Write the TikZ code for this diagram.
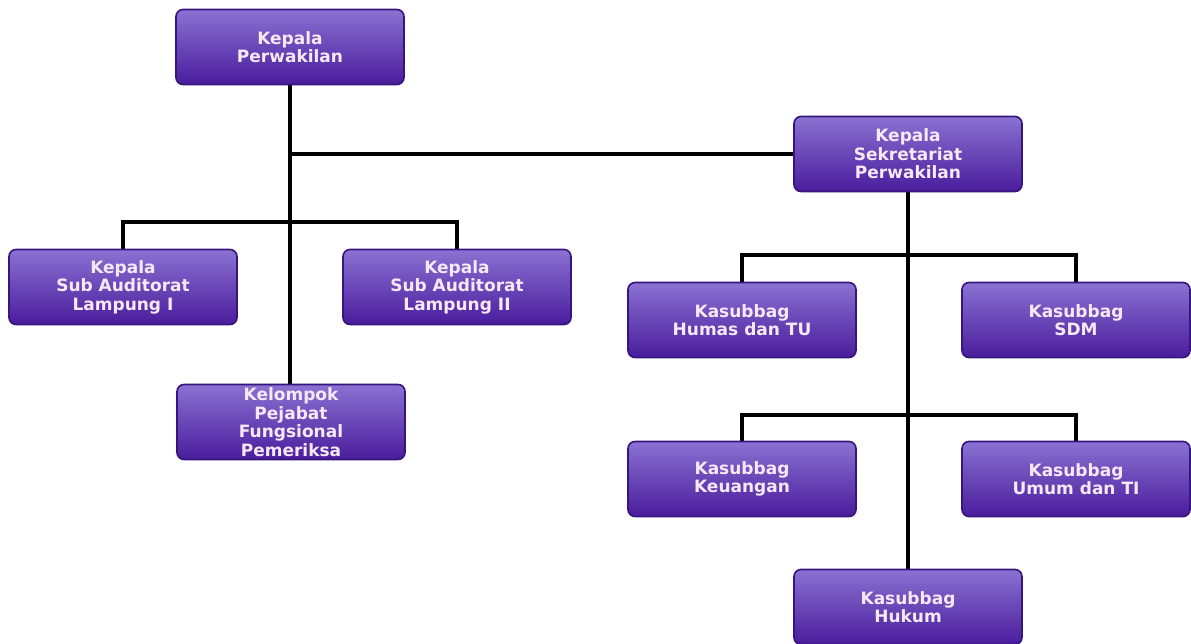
\documentclass[tikz,border=0pt]{standalone}
\usepackage{fontspec}
\setmainfont{DejaVu Sans}
\usetikzlibrary{backgrounds}
\definecolor{boxtop}{HTML}{8A72D2}
\definecolor{boxmid}{HTML}{5C30B0}
\definecolor{boxbot}{HTML}{4A1C9C}
\definecolor{boxedge}{HTML}{36157F}
\definecolor{boxtext}{HTML}{F6E8F6}
\begin{document}
\begin{tikzpicture}[x=1pt,y=-1pt,
  unit/.style={rectangle,rounded corners=7pt,minimum width=228pt,minimum height=75pt,
    top color=boxtop,middle color=boxmid,bottom color=boxbot,draw=boxedge,line width=1.6pt,
    text=boxtext,font=\bfseries\fontsize{17}{18.5}\selectfont,align=center,inner sep=2pt},
  link/.style={line width=3.2pt,black}]
\useasboundingbox (0,0) rectangle (1191,643);
% pimpinan
\node[unit] (kp) at (290,47) {Kepala\\Perwakilan};
\node[unit] (ks) at (908,154) {Kepala\\Sekretariat\\Perwakilan};
% sub auditorat
\node[unit] (sa1) at (123,287) {Kepala\\Sub Auditorat\\Lampung I};
\node[unit] (sa2) at (457,287) {Kepala\\Sub Auditorat\\Lampung II};
\node[unit] (kfp) at (291,422) {Kelompok\\Pejabat\\Fungsional\\Pemeriksa};
% kasubbag
\node[unit] (hum) at (742,320) {Kasubbag\\Humas dan TU};
\node[unit] (sdm) at (1076,320) {Kasubbag\\SDM};
\node[unit] (keu) at (742,479) {Kasubbag\\Keuangan};
\node[unit] (umu) at (1076,479) {Kasubbag\\Umum dan TI};
\node[unit] (huk) at (908,607) {Kasubbag\\Hukum};
% garis
\coordinate (jsa) at (290,222);
\coordinate (jk1) at (908,255);
\coordinate (jk2) at (908,415);
\begin{scope}[on background layer]
\draw[link] (kp.south) -- (kp.south |- kfp.north);
\draw[link] (kp.south |- ks.west) -- (ks.west);
\draw[link] (sa1.north) |- (jsa) -| (sa2.north);
\draw[link] (ks.south) -- (huk.north);
\draw[link] (hum.north) |- (jk1) -| (sdm.north);
\draw[link] (keu.north) |- (jk2) -| (umu.north);
\end{scope}
\end{tikzpicture}
\end{document}
